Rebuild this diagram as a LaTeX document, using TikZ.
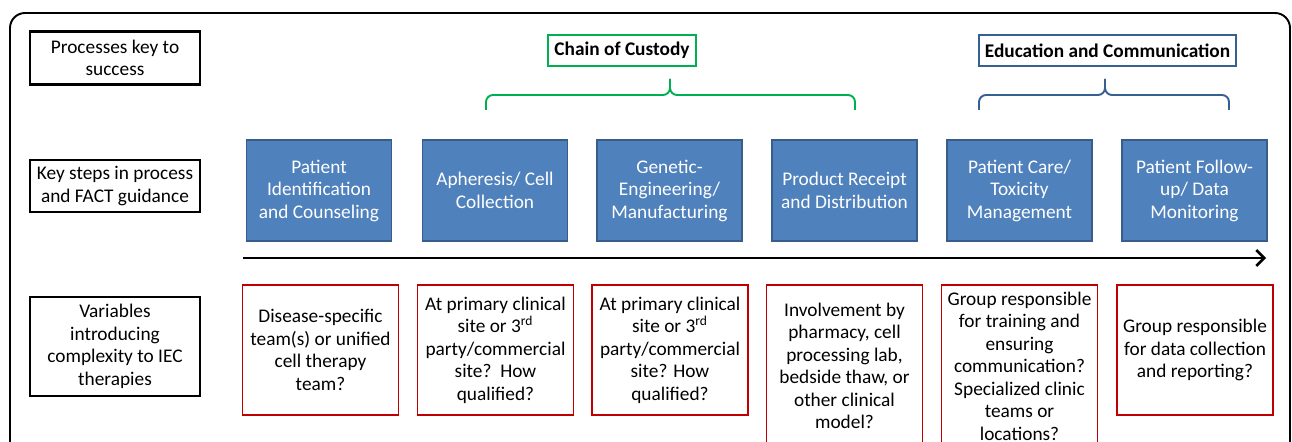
\documentclass[tikz,border=0pt]{standalone}
\usepackage{fontspec}
\setmainfont{Carlito}
\usepackage{tikz}
\usetikzlibrary{calc, arrows.meta}
\usepackage{xcolor}
\definecolor{stepblue}{RGB}{79,129,189}
\definecolor{stepedge}{RGB}{56,93,138}
\definecolor{varred}{RGB}{192,0,0}
\definecolor{custgreen}{RGB}{0,176,80}
\definecolor{edublue}{RGB}{55,96,146}

\begin{document}
\begin{tikzpicture}[x=0.02cm, y=-0.02cm, >=Straight Barb, font=\fontsize{11}{12.8}\selectfont]
				\tikzstyle{keybox}  = [draw=black, line width=1.4pt, align=center, minimum width=3.4cm, inner sep=2pt]
				\tikzstyle{stepbox} = [draw=stepedge, fill=stepblue, line width=0.6pt, text=white, align=center, minimum width=2.9cm, minimum height=2.02cm]
				\tikzstyle{varbox}  = [draw=varred, line width=1.1pt, align=center, minimum width=3.12cm, minimum height=2.6cm]
				\tikzstyle{groupbox} = [line width=1.1pt, align=center, font=\fontsize{11}{12.8}\selectfont\bfseries, minimum height=0.62cm]
				\tikzstyle{bracket} = [line width=1.1pt, rounded corners=4pt]
				
				\useasboundingbox (0,0) rectangle (1292,442);
				\clip (0,0) rectangle (1292,442);
				\draw[line width=1.1pt, rounded corners=0.3cm] (10,13) rectangle (1290,520);
				
				\node[keybox, minimum height=1.06cm]	at (115, 58)	(k0)	{Processes key to\\success};
				\node[keybox, minimum height=1.04cm]	at (115, 186)	(k1)	{Key steps in process\\and FACT guidance};
				\node[keybox, minimum height=1.98cm]	at (115, 346.5)	(k2)	{Variables\\introducing\\complexity to IEC\\therapies};
				
				\node[groupbox, draw=custgreen, minimum width=2.96cm]	at (622, 50.5)	(g0)	{Chain of Custody};
				\node[groupbox, draw=edublue, minimum width=5.14cm]	at (1107.5, 50.5)	(g1)	{Education and Communication};
				
				\node[stepbox] 		at (319, 190.5)		(s1) 	{Patient\\Identification\\and Counseling};
				\node[stepbox] 		at (495, 190.5)		(s2) 	{Apheresis/ Cell\\Collection};
				\node[stepbox] 		at (669.5, 190.5)	(s3) 	{Genetic-\\Engineering/\\Manufacturing};
				\node[stepbox] 		at (844.5, 190.5)	(s4) 	{Product Receipt\\and Distribution};
				\node[stepbox] 		at (1019.5, 190.5)	(s5) 	{Patient Care/\\Toxicity\\Management};
				\node[stepbox] 		at (1194.5, 190.5)	(s6) 	{Patient Follow-\\up/ Data\\Monitoring};
				
				\node[varbox] 		at (320.5, 350)		(v1) 	{Disease-specific\\team(s) or unified\\cell therapy\\team?};
				\node[varbox] 		at (495.5, 350)		(v2) 	{At primary clinical\\site or 3\textsuperscript{rd}\\party/commercial\\site?\ \ How\\qualified?};
				\node[varbox] 		at (670, 350)		(v3) 	{At primary clinical\\site or 3\textsuperscript{rd}\\party/commercial\\site? How\\qualified?};
				\node[varbox, minimum height=3.24cm] 	at (844.5, 366)	(v4) 	{Involvement by\\pharmacy, cell\\processing lab,\\bedside thaw, or\\other clinical\\model?};
				\node[varbox, minimum height=3.24cm] 	at (1019.5, 366)	(v5) 	{Group responsible\\for training and\\ensuring\\communication?\\Specialized clinic\\teams or\\locations?};
				\node[varbox] 		at (1195, 350)		(v6) 	{Group responsible\\for data collection\\and reporting?};
				
				% time line
				\coordinate (t0) at (243, 258);
				\coordinate (t1) at (1266, 258);
				\path[->, line width=1.5pt]
				(t0)	edge	(t1);
				
				% brackets under the two groups
				\coordinate (c0) at (486, 110);
				\coordinate (c1) at (855, 110);
				\coordinate (cm) at (670, 95);
				\coordinate (e0) at (979, 110);
				\coordinate (e1) at (1229, 110);
				\coordinate (em) at (1105, 95);
				\draw[bracket, custgreen]	(c0) |- (cm) -- ++(0,-16);
				\draw[bracket, custgreen]	(c1) |- (cm) -- ++(0,-16);
				\draw[bracket, edublue]	(e0) |- (em) -- ++(0,-16);
				\draw[bracket, edublue]	(e1) |- (em) -- ++(0,-16);
			\end{tikzpicture}
\end{document}
